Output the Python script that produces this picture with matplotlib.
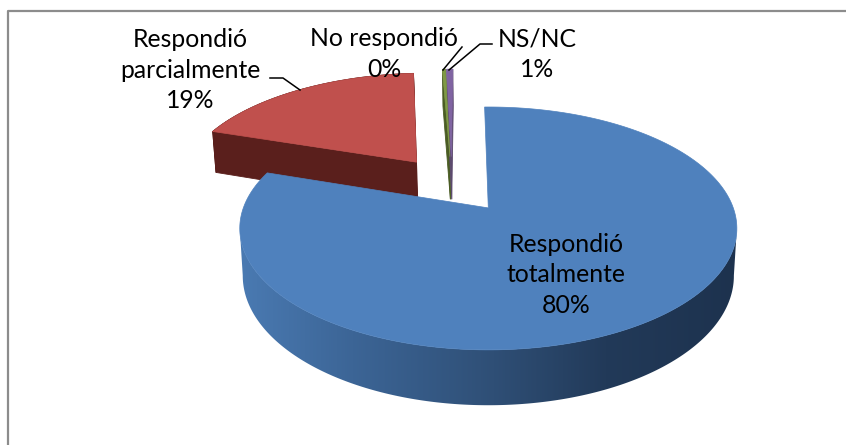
import numpy as np
from matplotlib import pyplot as plt
from matplotlib.colors import LinearSegmentedColormap
from matplotlib.patches import Polygon

# data
labels = ["Respondió\ntotalmente\n80%", "Respondió\nparcialmente\n19%",
          "No respondió\n0%", "NS/NC\n1%"]
values = [80.3, 18.9, 0.25, 0.5]
top_colors = ["#4f81bd", "#c0504d", "#7f9a45", "#8064a2"]
side_colors = ["#34577f", "#5a1f1c", "#4a5c24", "#5c4a6e"]

# projection of the tilted pie, in pixels
cx, cy = 488, 208
rx, ry = 245, 118
persp = 0.169
depth = 46
explode = 0.26
center = (-0.153, 0.21)
first_angle = 91

# blue side goes from light on the left to dark on the right
wall_cmap = LinearSegmentedColormap.from_list("wall", [
    (0.0, "#4a7ab2"), (0.225, "#3c6596"), (0.51, "#2f4f76"),
    (0.735, "#223a59"), (1.0, "#1d324e")])


def project(u, v, low=False):
    s = 1 / (1 + persp * v)
    x = cx + rx * u * s
    y = cy - ry * v * s
    if low:
        x = cx + (x - cx) * 0.988
        y = y + depth * s
    return x, y


fig = plt.figure(figsize=(8.46, 4.45), dpi=100)
ax = fig.add_axes([0, 0, 1, 1])
ax.axis("off")

# chart frame
ax.plot([7.5, 7.5, 846], [445, 10.5, 10.5], color="#8c8c8c", lw=1.6)

# slices run clockwise from the first angle, the big one is drawn last
fracs = np.array(values) / sum(values) * 360
start = first_angle - np.concatenate([[0], np.cumsum(fracs)[:-1]])
for i in [1, 2, 3, 0]:
    a0 = start[i]
    a1 = a0 - fracs[i]
    mid = np.radians((a0 + a1) / 2)
    ou = center[0] + explode * np.cos(mid)
    ov = center[1] + explode * np.sin(mid)
    th = np.radians(np.linspace(a0, a1, 240))
    us = np.concatenate([[ou], ou + np.cos(th)])
    vs = np.concatenate([[ov], ov + np.sin(th)])

    if i == 0:
        # front of the big slice, between the widest points of the rim,
        # shaded with a gradient clipped to the wall
        front = np.radians(np.linspace(150, 390, 480))
        upper = [project(ou + np.cos(t), ov + np.sin(t)) for t in front]
        lower = [project(ou + np.cos(t), ov + np.sin(t), low=True) for t in front]
        xs = [p[0] for p in upper]
        left, right = int(np.argmin(xs)), int(np.argmax(xs))
        outline = upper[left:right + 1] + lower[left:right + 1][::-1]
        wall = Polygon(outline, closed=True, fc="none", ec="none")
        ax.add_patch(wall)
        img = ax.imshow(np.linspace(0, 1, 256)[None, :], cmap=wall_cmap,
                        extent=[240, 738, 420, 200], aspect="auto", zorder=1)
        img.set_clip_path(wall)
    else:
        # side walls, back ones first, the top face hides what it should
        n = len(us)
        edges = sorted(range(n), key=lambda k: -(vs[k] + vs[(k + 1) % n]))
        for k in edges:
            j = (k + 1) % n
            # thin slices only show the cut from the apex
            if i > 1 and k not in (0, n - 1):
                continue
            p1 = project(us[k], vs[k])
            p2 = project(us[j], vs[j])
            p3 = project(us[j], vs[j], low=True)
            p4 = project(us[k], vs[k], low=True)
            ax.add_patch(Polygon([p1, p2, p3, p4], closed=True, fc=side_colors[i],
                                 ec=side_colors[i], lw=0.6))

    pts = [project(u, v) for u, v in zip(us, vs)]
    ax.add_patch(Polygon(pts, closed=True, fc=top_colors[i], ec=top_colors[i],
                         lw=0.5, zorder=2))

# leader lines
ax.plot([270, 283, 300], [78, 78, 90], color="black", lw=1.1, zorder=3)
ax.plot([462, 443], [47, 70], color="black", lw=1.1, zorder=3)
ax.plot([492, 480, 449], [44, 44, 70], color="black", lw=1.1, zorder=3)

# labels
font = dict(family="Lato", fontsize=17.8, color="black", ha="center", va="center",
            linespacing=1.42, zorder=4)
ax.text(566, 275, labels[0], **font)
ax.text(190, 70, labels[1], **font)
ax.text(384, 54, labels[2], **font)
ax.text(537, 54, labels[3], **font)

ax.set_xlim(0, 846)
ax.set_ylim(445, 0)

fig.savefig("out.png", dpi=100)
